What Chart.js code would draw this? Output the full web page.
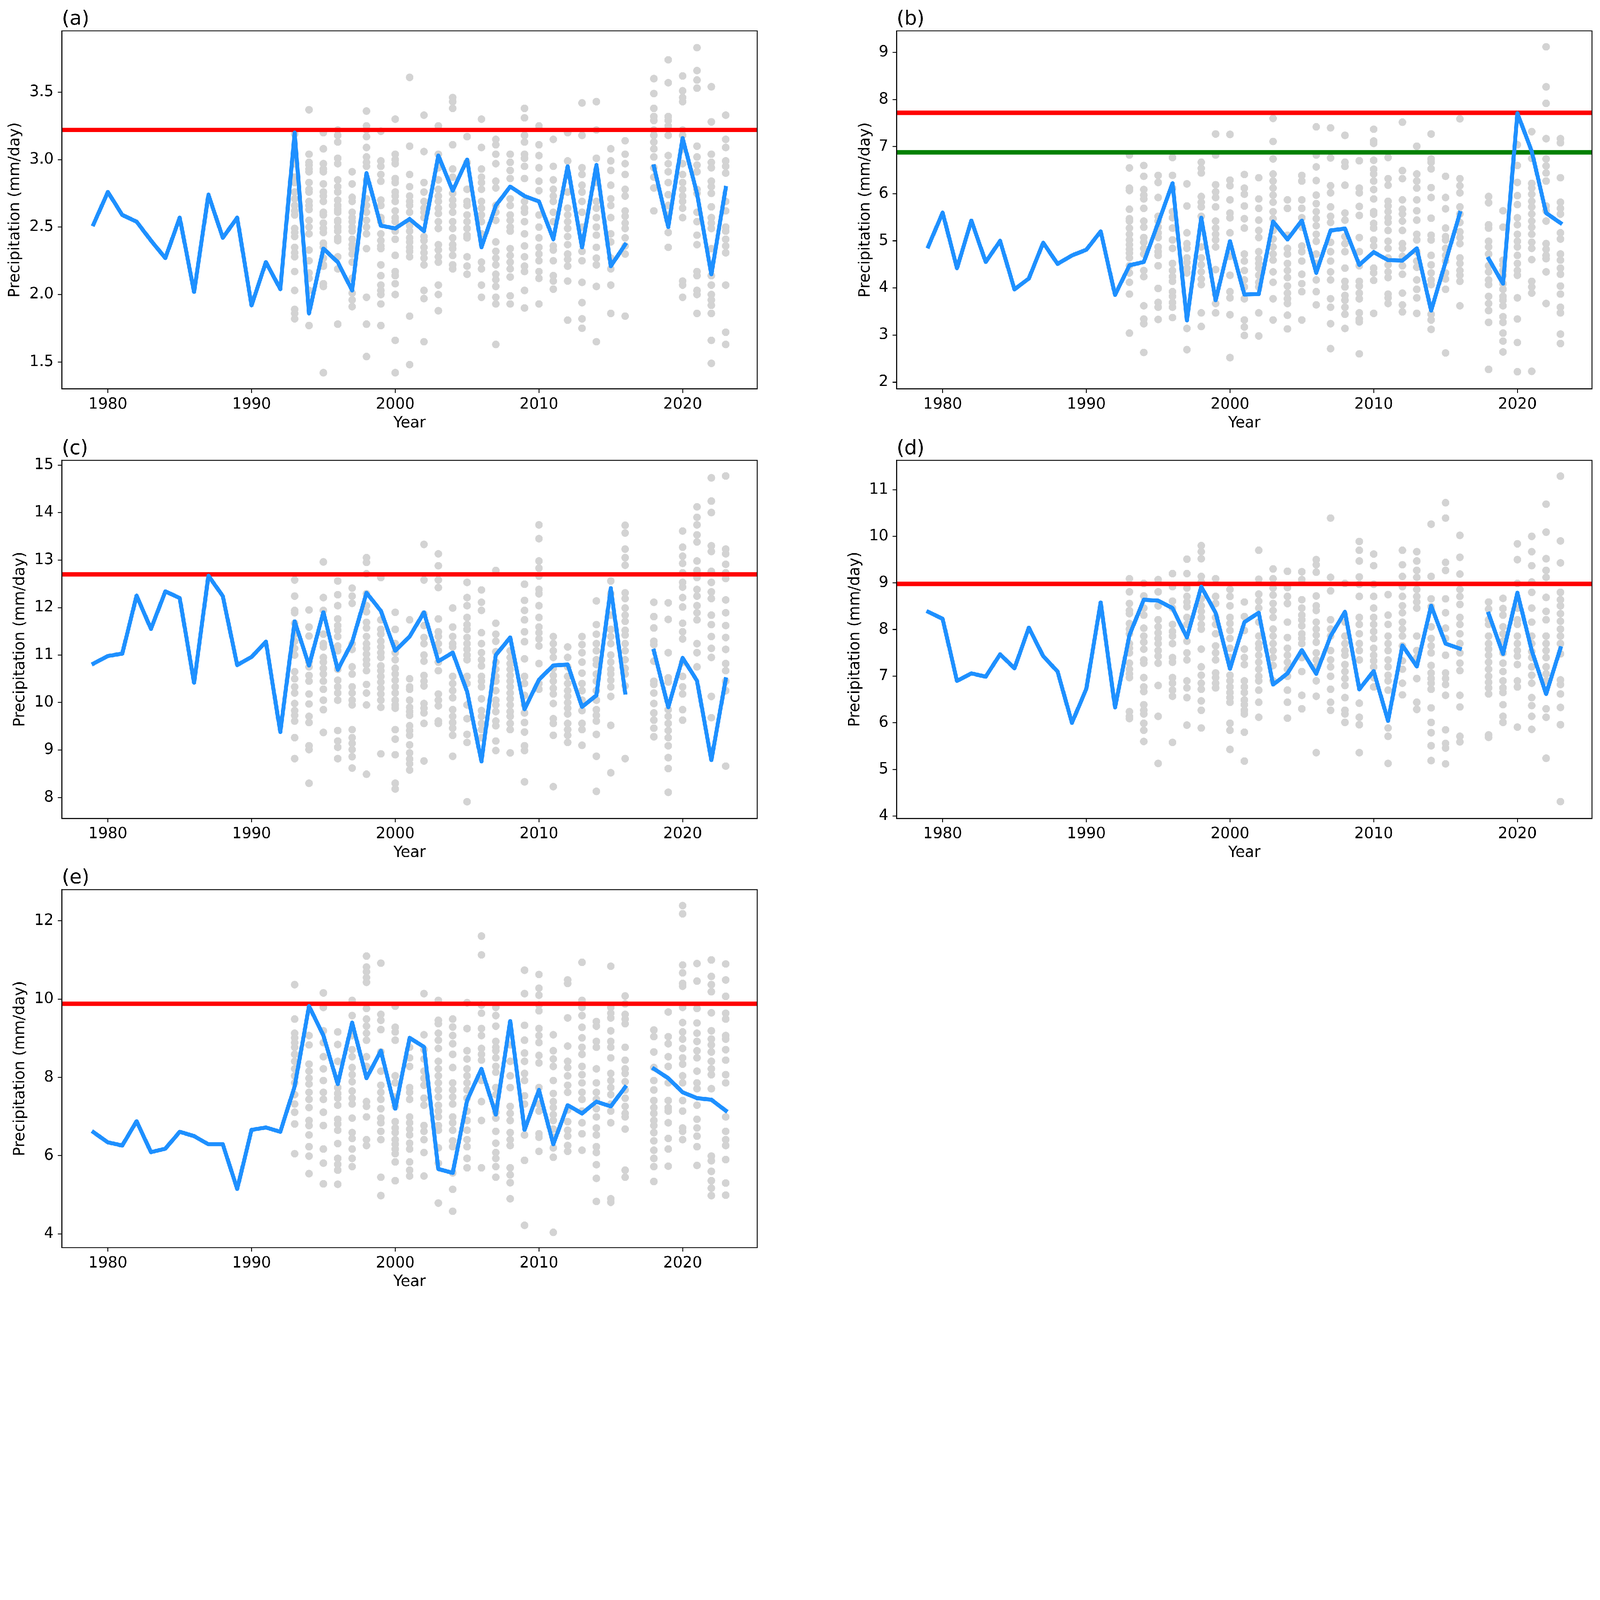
<!DOCTYPE html>
<html>
<head>
<meta charset="utf-8">
<script src="https://cdn.jsdelivr.net/npm/chart.js@4.4.1/dist/chart.umd.min.js"></script>
<style>
  html, body { margin: 0; padding: 0; background: #fff; overflow: hidden; }
  #fig { position: absolute; left: 0; top: 0; width: 6076px; height: 4933px; transform-origin: 0 0; background: #fff; }
  canvas { position: absolute; }
</style>
</head>
<body>
<div id="fig">
<canvas id="ca" width="2920" height="1647" style="left:0px;top:0px"></canvas>
<canvas id="cb" width="2906" height="1647" style="left:3170px;top:0px"></canvas>
<canvas id="cc" width="2920" height="1647" style="left:0px;top:1631px"></canvas>
<canvas id="cd" width="2906" height="1647" style="left:3170px;top:1631px"></canvas>
<canvas id="ce" width="2920" height="1647" style="left:0px;top:3261px"></canvas>
</div>
<script>
// yearly series (blue line), 2017 missing
const years = [1979,1980,1981,1982,1983,1984,1985,1986,1987,1988,1989,1990,1991,1992,1993,1994,1995,1996,1997,1998,1999,2000,2001,2002,2003,2004,2005,2006,2007,2008,2009,2010,2011,2012,2013,2014,2015,2016,2017,2018,2019,2020,2021,2022,2023];
const lineA = [2.52,2.76,2.59,2.54,2.40,2.27,2.57,2.02,2.74,2.42,2.57,1.92,2.24,2.04,3.20,1.86,2.34,2.24,2.03,2.90,2.51,2.49,2.56,2.47,3.03,2.77,3.00,2.35,2.66,2.80,2.73,2.69,2.41,2.95,2.35,2.96,2.21,2.37,null,2.95,2.50,3.16,2.75,2.15,2.79];
const lineB = [4.88,5.60,4.42,5.43,4.55,5.00,3.97,4.20,4.96,4.51,4.69,4.81,5.20,3.85,4.48,4.55,5.38,6.22,3.31,5.49,3.74,4.99,3.86,3.87,5.41,5.03,5.43,4.32,5.22,5.26,4.49,4.76,4.59,4.58,4.84,3.52,4.55,5.59,null,4.62,4.09,7.71,6.90,5.59,5.38];
const lineC = [10.82,10.98,11.03,12.25,11.55,12.34,12.20,10.42,12.67,12.24,10.79,10.96,11.28,9.38,11.71,10.78,11.90,10.69,11.27,12.31,11.93,11.09,11.39,11.90,10.87,11.05,10.23,8.76,11.00,11.37,9.86,10.48,10.78,10.80,9.91,10.15,12.41,10.21,null,11.09,9.90,10.94,10.46,8.79,10.49];
const lineD = [8.38,8.23,6.90,7.06,6.99,7.47,7.17,8.04,7.43,7.10,6.00,6.73,8.58,6.33,7.88,8.64,8.62,8.46,7.83,8.92,8.36,7.16,8.16,8.36,6.82,7.06,7.56,7.05,7.86,8.38,6.72,7.11,6.04,7.66,7.21,8.51,7.70,7.59,null,8.34,7.48,8.79,7.55,6.62,7.60];
const lineE = [6.60,6.34,6.26,6.88,6.09,6.18,6.61,6.50,6.29,6.29,5.15,6.66,6.72,6.61,7.77,9.82,9.07,7.83,9.40,7.98,8.68,7.20,9.01,8.78,5.66,5.56,7.41,8.22,7.05,9.44,6.66,7.68,6.29,7.29,7.08,7.38,7.26,7.75,null,8.22,7.98,7.62,7.47,7.43,7.15];

// threshold lines
const redA = 3.22, redB = 7.72, greenB = 6.88, redC = 12.7, redD = 8.98, redE = 9.88;

// ensemble members (grey dots), one list per year
const memberYears = [1993,1994,1995,1996,1997,1998,1999,2000,2001,2002,2003,2004,2005,2006,2007,2008,2009,2010,2011,2012,2013,2014,2015,2016,2018,2019,2020,2021,2022,2023];
const membersA = [
  [3.19,2.97,2.87,2.83,2.76,2.71,2.66,2.62,2.59,2.49,2.46,2.43,2.35,2.31,2.28,2.17,2.03,1.89,1.86,1.82],
  [3.37,3.04,2.98,2.96,2.93,2.91,2.83,2.78,2.76,2.69,2.66,2.63,2.55,2.50,2.45,2.33,2.25,2.16,2.12,2.03,1.77],
  [3.20,3.08,2.97,2.93,2.91,2.82,2.76,2.73,2.69,2.61,2.59,2.53,2.49,2.46,2.38,2.35,2.27,2.22,2.21,2.08,2.06,1.42],
  [3.22,3.18,3.13,3.01,2.97,2.85,2.80,2.76,2.70,2.66,2.63,2.61,2.55,2.54,2.50,2.47,2.42,2.40,2.28,2.19,1.78],
  [2.91,2.82,2.72,2.69,2.61,2.57,2.54,2.50,2.47,2.41,2.37,2.34,2.30,2.24,2.12,2.01,1.96,1.91],
  [3.36,3.25,3.22,3.17,3.09,3.02,2.98,2.95,2.85,2.71,2.66,2.61,2.55,2.50,2.45,2.34,1.98,1.78,1.54],
  [3.21,2.99,2.95,2.89,2.84,2.70,2.66,2.57,2.54,2.45,2.40,2.36,2.34,2.22,2.14,2.07,2.03,2.00,1.93,1.77],
  [3.30,3.04,3.00,2.97,2.86,2.83,2.76,2.73,2.69,2.62,2.57,2.54,2.47,2.41,2.29,2.17,2.14,2.08,2.00,1.66,1.42],
  [3.61,3.10,2.89,2.80,2.73,2.69,2.66,2.61,2.51,2.47,2.42,2.39,2.35,2.32,2.28,1.84,1.48],
  [3.33,3.06,2.83,2.76,2.69,2.64,2.61,2.57,2.43,2.40,2.35,2.31,2.27,2.22,2.03,1.97,1.65],
  [3.25,3.04,2.94,2.85,2.78,2.73,2.69,2.64,2.60,2.54,2.49,2.37,2.33,2.28,2.24,2.07,2.00,1.88],
  [3.46,3.43,3.38,3.11,2.93,2.87,2.75,2.70,2.66,2.61,2.54,2.49,2.42,2.37,2.34,2.29,2.22,2.19],
  [3.17,2.98,2.78,2.69,2.66,2.59,2.54,2.49,2.44,2.42,2.28,2.21,2.15],
  [3.30,3.09,2.93,2.87,2.83,2.78,2.69,2.64,2.59,2.54,2.45,2.24,2.19,2.07,1.98],
  [3.15,3.11,3.04,2.97,2.84,2.79,2.66,2.61,2.55,2.39,2.32,2.27,2.22,2.15,2.11,2.06,1.98,1.93,1.63],
  [3.04,2.98,2.92,2.86,2.71,2.66,2.59,2.55,2.50,2.47,2.34,2.29,2.24,2.19,2.13,1.99,1.93],
  [3.38,3.31,3.18,3.13,3.04,3.01,2.95,2.86,2.69,2.64,2.61,2.54,2.45,2.36,2.28,2.21,2.17,2.03,1.90],
  [3.25,3.11,3.03,2.94,2.84,2.77,2.59,2.50,2.42,2.35,2.30,2.25,2.17,2.12,1.93],
  [3.15,2.95,2.85,2.78,2.73,2.69,2.61,2.54,2.36,2.33,2.25,2.14,2.10,2.04],
  [3.20,2.99,2.76,2.64,2.59,2.54,2.49,2.43,2.37,2.30,2.26,2.21,2.10,1.81],
  [3.42,3.18,2.94,2.89,2.81,2.76,2.69,2.61,2.50,2.42,2.32,2.25,2.09,1.94,1.82,1.75],
  [3.43,3.22,3.01,2.83,2.69,2.64,2.57,2.50,2.44,2.35,2.27,2.22,2.06,1.65],
  [3.08,2.99,2.92,2.81,2.71,2.66,2.57,2.45,2.39,2.27,2.19,2.07,1.86],
  [3.14,3.04,2.97,2.89,2.78,2.73,2.62,2.58,2.53,2.49,2.42,2.36,2.30,1.84],
  [3.60,3.49,3.38,3.32,3.29,3.22,3.18,3.13,3.08,3.02,2.94,2.87,2.79,2.62],
  [3.74,3.57,3.32,3.29,3.25,3.18,3.03,2.97,2.91,2.83,2.74,2.66,2.59,2.46,2.35],
  [3.62,3.51,3.46,3.43,3.22,3.18,3.08,2.97,2.89,2.83,2.78,2.73,2.69,2.64,2.57,2.10,2.07,1.98],
  [3.83,3.66,3.59,3.53,3.10,3.02,2.96,2.91,2.78,2.75,2.61,2.54,2.44,2.37,2.17,2.14,2.03,2.00,1.86],
  [3.54,3.28,3.04,2.98,2.94,2.84,2.80,2.75,2.65,2.57,2.53,2.49,2.34,2.14,2.07,2.00,1.96,1.92,1.86,1.66,1.49],
  [3.33,3.15,3.09,2.99,2.95,2.90,2.69,2.62,2.50,2.47,2.41,2.36,2.31,2.07,1.72,1.63]
];
const membersB = [
  [6.82,6.55,6.12,6.07,5.67,5.47,5.42,5.27,5.14,5.02,4.92,4.82,4.74,4.64,4.47,4.32,4.12,3.87,3.04],
  [6.60,6.37,6.09,5.97,5.89,5.69,5.42,5.29,5.07,4.97,4.84,4.72,4.37,4.24,3.62,3.34,3.24,2.63],
  [6.39,6.24,5.92,5.52,5.42,5.29,5.17,5.07,4.87,4.77,4.69,4.47,3.99,3.69,3.59,3.33],
  [6.77,6.39,6.12,5.62,5.49,5.27,5.02,4.84,4.52,4.37,4.24,4.14,3.92,3.82,3.69,3.59,3.37],
  [6.21,5.74,5.17,4.94,4.84,4.64,4.54,4.42,4.32,3.14,2.69],
  [6.67,6.54,6.44,5.94,5.82,5.72,5.52,4.87,4.64,4.49,4.34,4.19,4.07,3.47,3.18],
  [7.27,6.82,6.19,6.04,5.92,5.72,5.42,5.27,5.14,5.02,4.87,4.39,3.87,3.67,3.47],
  [7.26,6.29,6.17,5.87,5.59,5.49,5.17,4.67,4.27,3.92,3.79,3.43,2.52],
  [6.41,6.12,5.99,5.74,5.47,5.27,4.72,4.57,4.37,4.17,4.02,3.77,3.32,3.17,2.99],
  [6.34,5.89,5.69,5.44,5.22,5.07,4.77,4.62,4.52,4.42,4.27,4.12,4.02,3.47,2.98],
  [7.60,7.11,6.74,6.42,6.27,6.12,5.97,5.82,5.62,5.47,5.22,5.04,4.87,4.72,4.59,4.34,4.12,3.77,3.32],
  [5.87,5.69,5.12,4.84,4.72,4.52,4.37,4.22,4.04,3.89,3.77,3.67,3.42,3.13],
  [6.39,6.27,5.87,5.69,5.49,5.29,4.89,4.77,4.57,4.29,4.09,3.92,3.32],
  [7.42,6.82,6.57,6.28,5.97,5.79,5.62,5.47,5.32,5.14,4.99,4.72,4.52,4.17,3.92,3.64],
  [7.40,6.76,6.17,6.02,5.72,5.52,5.39,4.97,4.77,4.57,4.34,4.17,3.77,3.59,3.24,2.71],
  [7.24,6.67,6.58,6.18,5.59,5.44,5.09,4.94,4.77,4.42,4.14,4.02,3.84,3.74,3.59,3.44,3.14],
  [6.70,6.12,6.02,5.73,5.54,5.07,4.77,4.47,4.14,4.04,3.89,3.77,3.47,3.34,3.28,2.60],
  [7.37,7.12,7.07,6.71,6.52,6.42,6.27,6.09,5.89,5.62,5.57,5.37,5.27,5.02,4.89,4.42,4.32,4.16,3.46],
  [6.77,6.32,6.18,5.84,5.74,5.62,5.49,5.39,5.22,4.99,4.84,4.64,4.49,4.34,4.22,3.87,3.79,3.67],
  [7.52,6.49,6.32,5.87,5.67,5.57,5.42,5.22,4.94,4.84,4.67,4.47,4.29,3.89,3.64,3.49],
  [7.01,6.42,6.27,6.12,5.87,5.64,5.44,5.14,5.02,4.77,4.57,4.44,4.17,3.97,3.79,3.46],
  [7.27,6.74,6.67,6.53,6.13,5.92,5.48,5.12,5.02,4.69,4.49,4.32,4.17,4.07,3.44,3.32,3.12],
  [6.37,5.92,5.68,5.27,5.09,5.02,4.84,4.69,4.57,4.32,4.19,3.97,2.62],
  [7.59,6.32,6.17,6.02,5.72,5.57,5.39,5.19,5.07,4.94,4.64,4.52,4.37,4.27,4.14,3.62],
  [5.94,5.81,5.34,5.27,4.99,4.87,4.72,4.47,4.34,4.17,4.07,3.82,3.67,3.52,3.27,2.27],
  [5.64,5.29,4.59,4.49,4.37,4.27,4.09,3.97,3.82,3.74,3.62,3.39,3.27,3.04,2.87,2.64],
  [7.04,6.60,6.24,5.96,5.77,5.49,5.34,5.14,4.99,4.87,4.69,4.52,4.37,4.27,3.79,3.34,2.84,2.22],
  [7.32,6.75,6.22,6.12,5.99,5.84,5.72,5.57,5.42,5.29,5.14,4.97,4.84,4.60,4.14,4.02,3.89,2.23],
  [9.12,8.27,7.92,7.17,6.74,6.59,6.44,6.27,5.74,5.64,5.42,4.94,4.82,4.69,4.62,4.34,3.67],
  [7.17,7.08,6.34,5.82,5.69,5.57,5.17,5.04,4.72,4.59,4.42,4.29,4.04,3.87,3.59,3.47,3.02,2.82]
];
const membersC = [
  [12.58,12.24,11.94,11.89,11.67,11.44,11.29,11.14,11.00,10.65,10.50,10.33,10.20,9.98,9.83,9.73,9.61,9.26,8.82],
  [11.95,11.59,11.40,10.85,10.75,10.57,10.45,10.18,9.97,9.71,9.58,9.09,9.01,8.30],
  [12.96,12.21,11.94,11.44,11.24,11.17,10.95,10.85,10.72,10.60,10.45,10.28,10.05,9.85,9.37],
  [12.56,12.27,12.04,11.76,11.62,11.52,11.39,11.19,11.09,10.70,10.47,10.33,10.20,10.05,9.41,9.19,9.06,8.82],
  [12.41,12.24,12.09,11.24,11.12,10.75,10.60,10.33,10.20,10.05,9.95,9.43,9.26,9.14,9.01,8.86,8.62],
  [13.05,12.95,12.71,12.29,12.04,11.91,11.69,11.57,11.39,11.24,11.14,11.02,10.90,10.80,10.67,10.38,10.20,9.95,8.49],
  [12.63,11.74,11.54,11.44,11.29,11.17,11.05,10.95,10.77,10.67,10.55,10.43,10.30,10.18,10.05,9.90,8.92],
  [11.90,11.54,11.24,11.05,10.90,10.72,10.60,10.47,10.33,10.20,10.05,9.95,9.88,9.43,9.23,8.90,8.30,8.18],
  [11.74,10.50,10.33,10.28,10.05,9.90,9.81,9.73,9.51,9.41,9.31,9.11,8.94,8.81,8.71,8.58],
  [13.33,12.58,11.86,11.62,11.37,11.24,11.00,10.87,10.57,10.45,10.35,9.98,9.88,9.78,9.56,8.77],
  [13.13,12.88,12.58,12.42,11.76,11.49,11.39,11.24,11.09,10.85,10.67,10.18,10.05,9.93,9.61,9.56],
  [11.99,11.59,11.39,11.24,11.17,10.55,10.40,10.25,10.10,9.85,9.71,9.58,9.46,9.31,8.87],
  [12.53,12.21,12.04,11.79,11.64,11.54,11.37,11.24,11.12,11.00,10.90,10.55,10.40,9.95,9.66,9.33,9.16,7.91],
  [12.37,12.11,11.94,11.47,11.24,11.05,10.90,10.77,10.55,10.45,10.33,10.08,9.83,9.71,9.56,9.43,9.26],
  [12.78,11.67,11.44,11.29,11.07,10.85,10.70,10.55,10.45,10.25,10.05,9.95,9.81,9.61,9.51,9.19,8.99],
  [11.09,10.95,10.82,10.70,10.57,10.45,10.33,10.20,10.08,9.95,9.81,9.71,9.56,9.43,8.94],
  [12.49,12.15,11.94,11.74,11.49,11.28,10.92,10.55,10.40,10.15,9.95,9.78,9.58,9.38,9.09,8.99,8.33],
  [13.74,13.45,12.98,12.83,12.66,12.38,12.29,12.04,11.79,11.59,11.47,11.34,11.19,10.82,10.40,10.28],
  [11.39,11.24,11.09,10.95,10.72,10.57,10.45,10.30,10.18,9.98,9.66,9.56,9.31,8.23],
  [11.17,10.95,10.75,10.55,10.40,10.25,10.13,10.00,9.88,9.76,9.56,9.43,9.31,9.16],
  [11.39,11.22,11.05,10.85,10.62,10.40,10.25,10.05,9.83,9.56,9.43,9.10],
  [12.14,11.64,11.44,11.24,11.09,10.90,10.80,10.60,10.45,10.25,10.05,9.85,9.73,9.61,9.33,8.87,8.13],
  [12.56,12.29,11.84,11.54,11.39,11.24,11.00,10.85,10.70,10.60,10.47,10.33,10.13,9.52,8.52],
  [13.73,13.57,13.23,13.05,12.89,12.31,12.19,11.99,11.84,11.71,11.52,11.42,11.24,11.09,10.90,10.72,10.60,10.35,8.82],
  [12.11,11.81,11.57,11.29,11.22,10.87,10.45,10.38,10.20,9.98,9.78,9.63,9.46,9.28],
  [12.10,11.75,11.05,10.52,10.43,9.85,9.71,9.56,9.41,9.26,9.09,8.84,8.61,8.11],
  [13.61,13.27,13.08,12.93,12.73,12.53,12.43,12.21,12.01,11.67,11.49,11.34,10.85,10.55,10.33,10.18,9.85,9.63],
  [14.12,13.90,13.74,13.53,13.38,12.98,12.78,12.63,12.38,12.24,12.04,11.89,11.74,11.24,11.05,10.75],
  [14.73,14.24,14.00,13.30,13.18,12.76,12.53,12.33,12.19,11.84,11.64,11.39,11.14,10.95,10.13,9.68],
  [14.77,13.23,13.13,12.91,12.73,12.61,12.16,11.89,11.62,11.37,11.12,10.82,10.67,10.45,10.25,8.66]
];
const membersD = [
  [9.09,8.81,8.56,8.41,8.34,8.13,8.01,7.91,7.70,7.60,7.50,7.28,7.15,7.05,6.97,6.24,6.14,6.09],
  [8.99,8.72,8.46,8.31,8.03,7.86,7.73,7.58,7.35,7.28,6.97,6.77,6.67,6.39,6.27,6.19,5.99,5.84,5.60],
  [9.07,8.81,8.51,8.21,8.06,7.93,7.81,7.70,7.55,7.43,7.28,6.80,6.14,5.13],
  [9.20,8.92,8.61,8.46,8.11,7.96,7.86,7.70,7.40,7.30,6.97,6.85,6.70,6.57,5.58],
  [9.51,9.20,8.89,8.71,8.59,8.49,8.26,8.11,7.75,7.50,7.35,6.90,6.75,6.54,5.95],
  [9.80,9.67,9.52,9.14,9.02,8.66,8.51,8.39,8.26,8.11,8.01,7.58,7.20,7.02,6.85,6.72,6.47,6.27,5.89],
  [9.09,8.71,8.56,8.26,8.11,7.91,7.65,7.50,7.35,7.07,6.97,6.85,6.75],
  [8.86,8.71,8.51,8.26,8.13,7.98,7.81,7.60,7.40,7.02,6.90,6.77,6.65,6.54,6.44,5.99,5.84,5.43],
  [8.59,8.28,7.98,7.58,7.40,7.25,6.90,6.77,6.65,6.49,6.39,6.27,6.19,5.80,5.18],
  [9.70,9.08,8.76,8.61,8.46,8.16,7.86,7.70,7.60,7.45,7.30,7.15,7.00,6.90,6.70,6.44,6.12],
  [9.30,9.09,8.89,8.74,8.56,8.41,8.26,8.01,7.86,7.70,7.55,7.40,7.23,6.90],
  [9.25,8.90,8.71,8.56,8.16,7.83,7.60,7.45,7.30,7.15,7.00,6.70,6.44,6.10],
  [9.24,9.07,8.64,8.46,8.31,8.21,8.08,7.91,7.81,7.70,7.40,7.10,6.59,6.30],
  [9.50,9.39,9.23,8.72,8.51,8.41,8.16,8.01,7.88,7.73,7.50,7.35,7.20,6.90,6.57,5.36],
  [10.39,9.12,8.83,8.21,8.01,7.86,7.55,7.35,7.20,7.00,6.72,6.44,6.27],
  [8.99,8.16,7.86,7.70,7.55,7.45,7.25,7.10,6.95,6.80,6.54,6.27,6.19,6.01],
  [9.89,9.70,9.47,9.13,8.97,8.71,8.26,8.11,7.91,7.70,7.55,7.35,6.42,6.12,5.96,5.36],
  [9.62,9.37,8.97,8.71,8.46,8.26,8.11,7.96,7.81,7.60,7.45,7.33,7.20,6.97,6.77],
  [8.75,8.31,8.11,7.86,7.70,7.55,7.35,7.20,7.02,6.90,6.70,5.89,5.71,5.13],
  [9.70,9.39,9.14,8.92,8.71,8.51,8.36,8.16,8.01,7.86,7.65,7.33,7.15,6.85,6.60],
  [9.67,9.47,9.27,9.12,8.86,8.71,8.59,8.46,7.86,7.55,7.40,6.95,6.44,6.29],
  [10.26,9.14,8.66,8.49,8.06,7.81,7.65,7.50,7.23,7.07,6.95,6.85,6.72,6.32,6.01,5.79,5.51,5.19],
  [10.72,10.39,9.44,9.27,8.66,8.36,8.03,7.81,7.45,7.07,6.95,6.82,6.59,5.85,5.56,5.46,5.12],
  [10.02,9.55,9.19,8.86,8.71,8.54,8.26,8.11,7.91,7.70,7.50,7.28,7.12,6.59,6.34,5.71,5.59],
  [8.59,8.44,8.21,8.11,7.86,7.70,7.58,7.45,7.30,7.15,7.00,6.87,6.75,6.62,5.74,5.69],
  [8.67,8.45,8.31,8.06,7.91,7.75,7.50,7.28,7.10,6.90,6.75,6.65,6.39,6.14,6.01],
  [9.84,9.50,8.99,8.46,8.21,8.11,7.86,7.70,7.55,7.43,7.25,6.90,6.77,5.91],
  [10.00,9.67,9.37,9.02,8.80,8.46,8.16,7.86,7.70,7.53,7.40,7.20,7.02,6.85,6.54,6.37,6.14,5.86],
  [10.69,10.09,9.52,9.27,9.12,8.69,8.39,8.21,7.86,7.70,7.55,7.40,7.20,7.05,6.90,6.30,6.12,5.24],
  [11.29,9.90,9.43,8.80,8.64,8.51,8.34,8.18,8.01,7.86,7.70,7.48,6.92,6.82,6.62,6.33,5.96,4.31]
];
const membersE = [
  [10.37,9.49,9.13,9.01,8.89,8.77,8.59,8.41,8.22,8.04,7.86,7.56,7.32,7.11,6.81,6.05],
  [9.07,8.83,8.34,8.16,7.98,7.83,7.62,7.44,7.23,6.90,6.77,6.53,6.23,5.99,5.54],
  [10.16,9.79,9.19,8.89,8.53,8.22,7.92,7.62,7.44,7.11,6.77,6.17,5.81,5.28],
  [9.16,8.84,8.41,7.74,7.59,7.47,7.29,6.93,6.81,6.65,6.31,5.93,5.78,5.63,5.27],
  [9.97,9.58,9.07,8.71,8.53,8.25,8.07,7.89,7.65,7.47,7.32,6.96,6.59,6.44,6.17,5.93,5.72],
  [11.10,10.82,10.70,10.55,10.43,9.76,9.49,9.31,9.13,8.95,8.53,8.28,7.38,7.26,6.99,6.41,6.26],
  [10.92,9.61,9.46,9.22,8.65,8.16,7.80,7.62,7.44,7.20,6.96,6.84,6.62,6.41,5.45,4.98],
  [9.82,9.28,9.16,8.95,8.04,7.86,7.50,7.26,6.87,6.71,6.59,6.41,6.29,6.17,6.05,5.84,5.36],
  [8.77,8.50,8.28,7.74,7.62,7.44,6.99,6.84,6.68,6.53,6.32,6.17,5.84,5.63,5.48],
  [10.14,9.09,8.71,8.47,8.16,7.98,7.80,7.47,7.29,6.77,6.62,6.41,6.08,5.48],
  [9.97,9.46,9.37,9.13,8.95,8.74,8.41,8.22,8.04,7.86,7.68,7.50,7.29,7.14,6.99,6.77,6.65,6.20,5.81,4.79],
  [9.49,9.29,9.07,8.86,8.59,8.25,7.86,7.68,7.50,7.32,6.99,6.84,6.65,6.38,6.23,5.56,5.14,4.58],
  [9.91,9.25,8.68,8.47,8.22,8.04,7.86,7.68,7.47,7.14,6.90,6.65,6.41,6.23,5.93,5.69],
  [11.61,11.13,9.85,9.64,9.25,9.07,8.74,8.59,8.44,7.92,7.38,6.90,5.69],
  [9.79,9.58,9.31,8.92,8.77,8.68,8.50,8.28,8.13,7.74,7.56,7.26,7.11,6.96,6.62,6.32,6.08,5.93,5.72,5.45],
  [8.83,8.41,8.04,7.74,7.26,7.08,6.90,6.59,6.41,6.26,5.69,5.51,5.31,4.90],
  [10.74,10.14,9.33,8.95,8.62,8.41,8.10,7.92,7.53,7.32,6.53,5.88,4.22],
  [10.63,10.28,10.10,9.85,9.70,9.25,9.07,8.89,8.56,8.37,7.74,7.32,7.14,6.56,6.47,6.11],
  [9.09,8.68,8.47,8.28,7.92,7.59,7.38,7.23,7.05,6.90,6.68,6.47,6.20,5.96,4.04],
  [10.49,10.40,9.52,8.80,8.41,8.25,8.04,7.80,7.62,7.17,6.87,6.65,6.50,6.26,6.11],
  [10.94,9.97,9.79,9.58,9.28,9.01,8.77,8.59,8.28,8.07,7.86,7.62,7.44,7.14,6.84,6.56,6.14],
  [9.43,9.31,8.92,8.77,8.22,7.86,7.62,7.44,7.20,6.99,6.71,6.53,6.23,6.08,5.77,5.42,4.83],
  [10.84,9.79,9.64,9.52,9.19,8.92,8.77,8.50,8.10,7.92,7.74,7.56,7.32,7.14,6.84,4.90,4.81],
  [10.08,9.88,9.61,9.49,9.37,8.77,8.44,8.22,8.10,7.89,7.68,7.47,7.26,7.08,6.99,6.68,5.63,5.45],
  [9.21,9.04,8.65,8.25,7.92,7.68,7.41,7.23,7.08,6.90,6.77,6.59,6.38,6.14,5.93,5.72,5.34],
  [9.67,9.04,8.86,8.53,8.28,7.86,7.41,7.23,7.14,6.84,6.44,6.17,5.73],
  [12.39,12.18,10.87,10.67,10.40,10.33,9.79,9.40,9.16,8.98,8.74,8.50,8.34,8.04,7.86,7.41,7.14,6.71,6.62,6.41],
  [10.91,10.46,9.76,9.39,9.13,8.92,8.68,8.50,8.16,7.86,7.71,7.29,6.93,6.71,6.50,6.23,5.75],
  [11.00,10.58,10.37,10.19,9.65,9.19,8.98,8.83,8.65,8.41,8.22,8.07,7.71,5.99,5.87,5.60,5.36,5.17,4.98],
  [10.90,10.49,10.07,9.64,9.49,9.07,8.98,8.71,8.44,8.07,7.86,6.99,6.62,6.41,6.26,5.90,5.30,4.99]
];

// tick values
const xTicks = [1980, 1990, 2000, 2010, 2020];
const yTicksA = [1.5, 2.0, 2.5, 3.0, 3.5];
const yTicksB = [2, 3, 4, 5, 6, 7, 8, 9];
const yTicksC = [8, 9, 10, 11, 12, 13, 14, 15];
const yTicksD = [4, 5, 6, 7, 8, 9, 10, 11];
const yTicksE = [4, 6, 8, 10, 12];

const X_MIN = 1976.8, X_MAX = 2025.2;
const FONT = 'DejaVu Sans';
const FIG_W = 6076, FIG_H = 4933;

// fit the whole figure into whatever viewport we actually get
const fit = Math.min(1, window.innerWidth / FIG_W, window.innerHeight / FIG_H);
if (fit < 1) document.getElementById('fig').style.transform = 'scale(' + fit + ')';

// axes frame + panel letter
const framePlugin = {
  id: 'frame',
  afterDraw(chart, args, opts) {
    const { ctx, chartArea: a } = chart;
    ctx.save();
    ctx.strokeStyle = '#000';
    ctx.lineWidth = 3.3;
    ctx.strokeRect(a.left, a.top, a.right - a.left, a.bottom - a.top);
    ctx.fillStyle = '#000';
    ctx.font = '75px "' + FONT + '"';
    ctx.textAlign = 'left';
    ctx.textBaseline = 'alphabetic';
    ctx.fillText(opts.text, a.left, a.top - 23);
    ctx.restore();
  }
};

function makePanel(p) {
  const dots = [];
  memberYears.forEach((yr, i) => p.members[i].forEach(v => dots.push({ x: yr, y: v })));
  const datasets = [{
    type: 'scatter', data: dots, backgroundColor: '#d3d3d3', borderWidth: 0,
    pointRadius: 14.5, pointHoverRadius: 14.5, order: 3, clip: 0
  }];
  p.hlines.forEach(h => datasets.push({
    type: 'line', data: [{ x: X_MIN, y: h.value }, { x: X_MAX, y: h.value }],
    borderColor: h.color, borderWidth: 16.5, pointRadius: 0, order: 2, clip: 0
  }));
  datasets.push({
    type: 'line', data: years.map((yr, i) => ({ x: yr, y: p.line[i] })),
    borderColor: '#1e90ff', borderWidth: 15.5, pointRadius: 0, spanGaps: false,
    borderJoinStyle: 'round', borderCapStyle: 'square', tension: 0, order: 1, clip: 0
  });

  const canvas = document.getElementById(p.id);
  const tickFont = { family: FONT, size: 58 };
  new Chart(canvas, {
    type: 'scatter',
    data: { datasets },
    options: {
      responsive: false,
      animation: false,
      devicePixelRatio: 1,
      layout: { padding: { left: p.padLeft, right: canvas.width - 2876, top: 117, bottom: 0 } },
      plugins: { legend: { display: false }, tooltip: { enabled: false }, frame: { text: p.label } },
      scales: {
        x: {
          type: 'linear', min: X_MIN, max: X_MAX,
          afterBuildTicks: s => { s.ticks = xTicks.map(v => ({ value: v })); },
          afterFit: s => { s.height = 170; },
          ticks: { font: tickFont, color: '#000', padding: 10, maxRotation: 0, autoSkip: false, callback: v => String(v) },
          grid: { display: true, drawOnChartArea: false, drawTicks: true, tickLength: 15, tickWidth: 3.3, tickColor: '#000' },
          border: { display: true, color: '#000', width: 3.3 },
          title: { display: true, text: 'Year', font: tickFont, color: '#000', padding: { top: 4, bottom: 4 } }
        },
        y: {
          type: 'linear', min: p.yMin, max: p.yMax,
          afterBuildTicks: s => { s.ticks = p.yTicks.map(v => ({ value: v })); },
          afterFit: s => { s.width = 235 - p.padLeft; },
          ticks: { font: tickFont, color: '#000', padding: 16, autoSkip: false, callback: v => v.toFixed(p.dec) },
          grid: { display: true, drawOnChartArea: false, drawTicks: true, tickLength: 15, tickWidth: 3.3, tickColor: '#000' },
          border: { display: true, color: '#000', width: 3.3 },
          title: { display: true, text: 'Precipitation (mm/day)', font: tickFont, color: '#000', padding: { top: 4, bottom: 4 } }
        }
      }
    },
    plugins: [framePlugin]
  });
}

makePanel({ id: 'ca', label: '(a)', padLeft: 19, line: lineA, members: membersA,
  hlines: [{ value: redA, color: '#ff0000' }], yMin: 1.30, yMax: 3.955, yTicks: yTicksA, dec: 1 });
makePanel({ id: 'cb', label: '(b)', padLeft: 78, line: lineB, members: membersB,
  hlines: [{ value: redB, color: '#ff0000' }, { value: greenB, color: '#008000' }], yMin: 1.855, yMax: 9.46, yTicks: yTicksB, dec: 0 });
makePanel({ id: 'cc', label: '(c)', padLeft: 38, line: lineC, members: membersC,
  hlines: [{ value: redC, color: '#ff0000' }], yMin: 7.56, yMax: 15.1, yTicks: yTicksC, dec: 0 });
makePanel({ id: 'cd', label: '(d)', padLeft: 39, line: lineD, members: membersD,
  hlines: [{ value: redD, color: '#ff0000' }], yMin: 3.95, yMax: 11.63, yTicks: yTicksD, dec: 0 });
makePanel({ id: 'ce', label: '(e)', padLeft: 38, line: lineE, members: membersE,
  hlines: [{ value: redE, color: '#ff0000' }], yMin: 3.65, yMax: 12.8, yTicks: yTicksE, dec: 0 });
</script>
</body>
</html>
